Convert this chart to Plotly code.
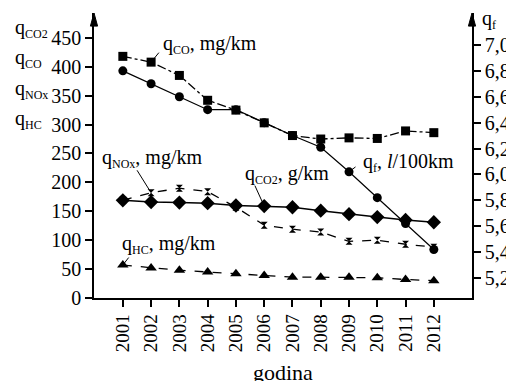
import plotly.graph_objects as go

years = [2001, 2002, 2003, 2004, 2005, 2006, 2007, 2008, 2009, 2010, 2011, 2012]
q_co = [418, 408, 385, 342, 325, 303, 281, 275, 277, 276, 289, 286]      # mg/km, left axis
q_f = [6.80, 6.70, 6.60, 6.50, 6.50, 6.40, 6.30, 6.21, 6.02, 5.82, 5.62, 5.42]  # l/100km, right axis
q_co2 = [169, 166, 165, 164, 160, 159, 157, 151, 145, 140, 135, 131]     # g/km, left axis
q_nox = [169, 182, 190, 184, 157, 126, 119, 114, 98, 100, 93, 88]       # mg/km, left axis
q_hc = [57, 52, 48, 45, 42, 39, 36, 36, 36, 35, 32, 30]                 # mg/km, left axis

left_ticks = [0, 50, 100, 150, 200, 250, 300, 350, 400, 450]
right_ticks = [5.2, 5.4, 5.6, 5.8, 6.0, 6.2, 6.4, 6.6, 6.8, 7.0]
right_tick_labels = ["5,2", "5,4", "5,6", "5,8", "6,0", "6,2", "6,4", "6,6", "6,8", "7,0"]
year_labels = [str(y) for y in years]

FONT = "Liberation Serif"
BLACK = "black"

fig = go.Figure()

fig.add_trace(go.Scatter(x=years, y=q_co, mode="lines+markers", name="q_CO",
                         line=dict(color=BLACK, width=1.3, dash="dashdot"),
                         marker=dict(symbol="square", size=9, color=BLACK)))
fig.add_trace(go.Scatter(x=years, y=q_f, mode="lines+markers", name="q_f", yaxis="y2",
                         line=dict(color=BLACK, width=1.2),
                         marker=dict(symbol="circle", size=9, color=BLACK)))
fig.add_trace(go.Scatter(x=years, y=q_co2, mode="lines+markers", name="q_CO2",
                         line=dict(color=BLACK, width=1.5),
                         marker=dict(symbol="diamond", size=11, color=BLACK)))
fig.add_trace(go.Scatter(x=years, y=q_nox, mode="lines+markers", name="q_NOx",
                         line=dict(color=BLACK, width=1.3, dash="dash"),
                         marker=dict(symbol="hourglass", size=7, color=BLACK)))
fig.add_trace(go.Scatter(x=years, y=q_hc, mode="lines+markers", name="q_HC",
                         line=dict(color=BLACK, width=1.3, dash="dash"),
                         marker=dict(symbol="triangle-up", size=10, color=BLACK)))

tfont = dict(family=FONT, size=20, color=BLACK)


def q(sub):
    return f"q<sub><span style='font-size:12px'>{sub}</span></sub>"


annotations = []
# callout lines (arrow only)
callouts = [
    dict(x=years[1], y=q_co[1], yref="y", ax=9, ay=-11),
    dict(x=years[8], y=q_f[8], yref="y2", ax=8, ay=-6),
    dict(x=years[5], y=q_co2[5], yref="y", ax=-10, ay=-22),
    dict(x=years[1], y=q_nox[1], yref="y", ax=-15, ay=-24),
    dict(x=years[0], y=q_hc[0], yref="y", ax=7, ay=-9),
]
for c in callouts:
    annotations.append(dict(x=c["x"], y=c["y"], xref="x", yref=c["yref"], text="",
                            showarrow=True, arrowhead=0, arrowwidth=1, arrowcolor=BLACK,
                            ax=c["ax"], ay=c["ay"]))

# callout texts
texts = [
    (q("CO") + ", mg/km", 0.177, 0.888),
    (q("f") + ", <i>l</i>/100km", 0.706, 0.474),
    (q("CO2") + ", g/km", 0.394, 0.435),
    (q("NOx") + ", mg/km", 0.016, 0.491),
    (q("HC") + ", mg/km", 0.069, 0.186),
]
for t, x, y in texts:
    annotations.append(dict(x=x, y=y, xref="paper", yref="paper", text=t, showarrow=False,
                            xanchor="left", yanchor="middle", font=tfont))

# left-side axis legend labels
for t, y in [(q("CO2"), 0.945), (q("CO"), 0.840),
             (q("NOx"), 0.733), (q("HC"), 0.628)]:
    annotations.append(dict(x=-0.214, y=y, xref="paper", yref="paper", text=t, showarrow=False,
                            xanchor="left", yanchor="middle", font=tfont))
# right axis label
annotations.append(dict(x=1.021, y=0.978, xref="paper", yref="paper", text=q("f"),
                        showarrow=False, xanchor="left", yanchor="middle", font=tfont))
# x-axis title
annotations.append(dict(x=0.5, y=-0.26, xref="paper", yref="paper", text="godina",
                        showarrow=False, xanchor="center", yanchor="middle",
                        font=dict(family=FONT, size=22, color=BLACK)))

# arrowheads on the vertical axes
aw = 0.0095
ah = 0.046
shapes = []
for x0 in (0, 1):
    shapes.append(dict(type="path", xref="paper", yref="paper",
                       path=f"M {x0},1.0 L {x0 - aw},{1 - ah} L {x0 + aw},{1 - ah} Z",
                       fillcolor=BLACK, line=dict(color=BLACK, width=1)))

axis_common = dict(showgrid=False, zeroline=False, showline=True, linecolor=BLACK, linewidth=1.5,
                   ticks="outside", ticklen=7, tickwidth=1.5, tickcolor=BLACK, automargin=False)

fig.update_layout(
    width=506, height=381,
    margin=dict(l=94, r=34, t=13, b=83),
    paper_bgcolor="white", plot_bgcolor="white",
    showlegend=False,
    font=dict(family=FONT, color=BLACK),
    xaxis=dict(range=[1999.98, 2013.35], tickvals=years, ticktext=year_labels, tickangle=-90,
               tickfont=dict(family=FONT, size=19, color=BLACK), **axis_common),
    yaxis=dict(range=[0, 493], tickvals=left_ticks,
               tickfont=dict(family=FONT, size=20, color=BLACK), **axis_common),
    yaxis2=dict(range=[5.045, 7.247], tickvals=right_ticks, ticktext=right_tick_labels,
                overlaying="y", side="right", anchor="x",
                tickfont=dict(family=FONT, size=20, color=BLACK), **axis_common),
    annotations=annotations,
    shapes=shapes,
)

# remove the default page margin so the 506x381 figure fills the window exactly
fig.write_html("out.html",
               config={"displayModeBar": False},
               post_script="document.body.style.margin='0';document.body.style.overflow='hidden';")
